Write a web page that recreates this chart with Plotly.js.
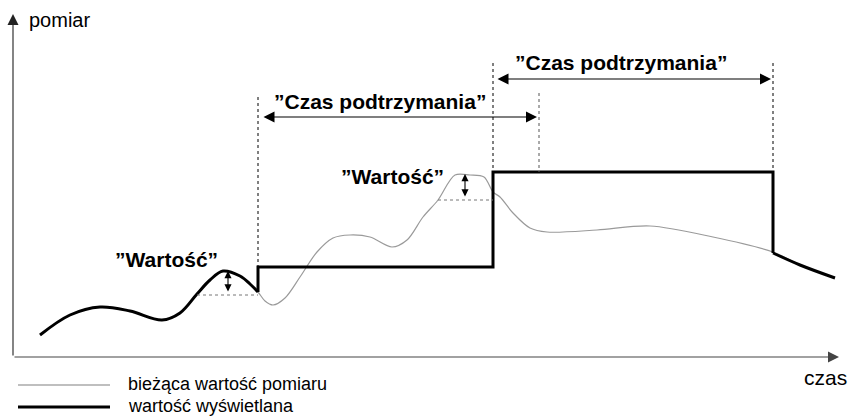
<!DOCTYPE html>
<html>
<head>
<meta charset="utf-8">
<script src="https://cdn.plot.ly/plotly-3.0.1.min.js"></script>
<style>
  html, body { margin: 0; padding: 0; background: #fff; }
  #chart { width: 851px; height: 416px; }
</style>
</head>
<body>
<div id="chart"></div>
<script>
const czas = [40, 70, 100, 130, 162, 180, 197, 210, 223, 240, 250, 258, 265, 273, 285, 300, 317,
              333, 350, 370, 392, 407, 423, 438, 455, 470, 484, 493, 500, 513, 530, 547, 597,
              650, 713, 773, 800, 835];
const pomiar = [81, 101, 109, 105, 96, 103, 122, 136, 145, 140, 132, 124, 115, 111, 118, 139, 164,
                178, 181, 179, 169, 176, 199, 216, 241, 241, 239, 224, 219, 203, 188, 184, 186,
                190, 179, 164, 151, 138];

// displayed value: follows the signal, then holds
const holdStart = [258, 493];
const holdEnd = 773;
const holdLevel = [149, 244];
const holdAfter = 163;

// hold time markers
const markers = [258, 493, 773];
const markerTop = [319, 353, 353];
const markerGray = 539;

const H = 416;

// gray measurement trace
const measured = {
    x: czas, y: pomiar,
    mode: 'lines', line: { color: '#9a9a9a', width: 1.2, shape: 'spline', smoothing: 0.9 },
    hoverinfo: 'skip', showlegend: false
};

// black displayed trace, smooth parts
const before = czas.map((t, i) => [t, pomiar[i]]).filter(p => p[0] <= holdStart[0]);
const after = czas.map((t, i) => [t, pomiar[i]]).filter(p => p[0] >= holdEnd);
const black_line = { color: '#000', width: 3, shape: 'spline', smoothing: 1 };

const shown_before = {
    x: before.map(p => p[0]), y: before.map(p => p[1]),
    mode: 'lines', line: black_line, hoverinfo: 'skip', showlegend: false
};
const shown_after = {
    x: after.map(p => p[0]), y: [holdAfter, ...after.slice(1).map(p => p[1])],
    mode: 'lines', line: black_line, hoverinfo: 'skip', showlegend: false
};

// step part
const step_x = [holdStart[0], holdStart[0], holdStart[1], holdStart[1], holdEnd, holdEnd];
const step_y = [before[before.length - 1][1], holdLevel[0], holdLevel[0], holdLevel[1], holdLevel[1], holdAfter];
const shown_step = {
    x: step_x, y: step_y,
    mode: 'lines', line: { color: '#000', width: 3 }, hoverinfo: 'skip', showlegend: false
};

const dashed = (x0, y0, x1, y1, color) => ({
    type: 'line', xref: 'x', yref: 'y', x0: x0, y0: y0, x1: x1, y1: y1,
    line: { color: color, width: 1, dash: '3px,3px' }
});

const shapes = [
    ...markers.map((m, i) => dashed(m, markerTop[i], m, i === 0 ? holdLevel[0] : holdLevel[1], '#000')),
    dashed(markerGray, 323, markerGray, holdLevel[1], '#555'),
    dashed(197, H - 295, holdStart[0], H - 295, '#777'),
    dashed(438, H - 200, holdStart[1], H - 200, '#777'),
    // legend samples
    { type: 'line', xref: 'x', yref: 'y', x0: 18, x1: 110, y0: H - 385, y1: H - 385,
      line: { color: '#aaa', width: 1.5 } },
    { type: 'line', xref: 'x', yref: 'y', x0: 18, x1: 110, y0: H - 407, y1: H - 407,
      line: { color: '#000', width: 3 } }
];

const arrow = (x0, y0, x1, y1, side, color, size) => ({
    x: x1, y: y1, ax: x0, ay: y0, xref: 'x', yref: 'y', axref: 'x', ayref: 'y',
    text: '', showarrow: true, arrowhead: 2, arrowsize: size || 2, arrowwidth: 1.1,
    arrowside: side, arrowcolor: color || '#000', startarrowhead: 2, startarrowsize: size || 2
});

const label = (x, y, text, size, bold, anchor) => ({
    x: x, y: y, xref: 'x', yref: 'y', showarrow: false,
    text: bold ? '<b>' + text + '</b>' : text,
    xanchor: anchor || 'center', yanchor: 'middle',
    font: { family: 'Arial, Liberation Sans, sans-serif', size: size, color: '#000' }
});

const annotations = [
    // axes
    arrow(13, H - 357, 13, H - 14, 'end', '#222'),
    arrow(13, H - 357, 839, H - 357, 'end', '#444'),
    label(27, H - 20, 'pomiar', 20, false, 'left'),
    label(849, H - 377, 'czas', 21, false, 'right'),
    // hold time arrows
    arrow(262, H - 117, 537, H - 117, 'end+start'),
    arrow(496, H - 79, 771, H - 79, 'end+start'),
    arrow(228, H - 293, 228, H - 271, 'end+start', '#000', 1.3),
    arrow(465, H - 198, 465, H - 174, 'end+start', '#000', 1.3),
    label(380, H - 101, '”Czas podtrzymania”', 21, true),
    label(621, H - 62, '”Czas podtrzymania”', 21, true),
    label(166, H - 259, '”Wartość”', 21, true),
    label(392, H - 176, '”Wartość”', 21, true),
    // legend
    label(126, H - 384, 'bieżąca wartość pomiaru', 18, false, 'left'),
    label(126, H - 406, 'wartość wyświetlana', 18, false, 'left')
];

const layout = {
    width: 851, height: 416,
    margin: { l: 0, r: 0, t: 0, b: 0 },
    paper_bgcolor: '#fff', plot_bgcolor: '#fff',
    xaxis: { range: [0, 851], visible: false, fixedrange: true },
    yaxis: { range: [0, H], visible: false, fixedrange: true },
    shapes: shapes,
    annotations: annotations,
    showlegend: false
};

Plotly.newPlot('chart', [measured, shown_before, shown_step, shown_after], layout, { staticPlot: true });
</script>
</body>
</html>
